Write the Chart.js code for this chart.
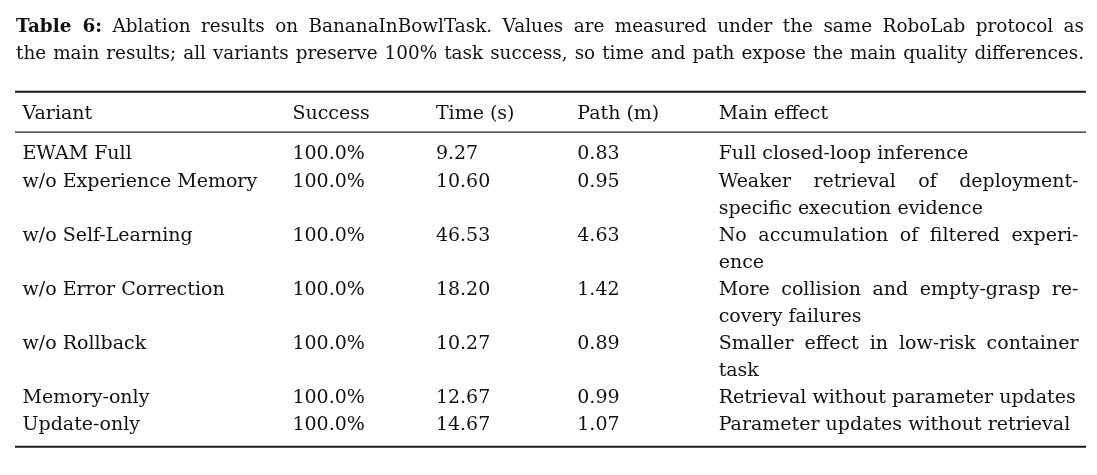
<!DOCTYPE html>
<html>
<head>
<meta charset="utf-8">
<script src="https://cdn.jsdelivr.net/npm/chart.js@4/dist/chart.umd.min.js"></script>
<style>
  html, body { margin: 0; padding: 0; background: #fff; }
  #wrap { position: relative; width: 1097px; height: 475px; }
  #caption {
    position: absolute; left: 16px; top: 13px; width: 1068px;
    font-family: "DejaVu Serif", serif; font-size: 18.4px; line-height: 26.5px; color: #111;
  }
  #caption div { text-align: justify; text-align-last: justify; white-space: nowrap; }
  #caption b { font-weight: bold; }
  #box { position: absolute; left: 0; top: 0; width: 1097px; height: 475px; }
</style>
</head>
<body>
<div id="wrap">
  <div id="box"><canvas id="c"></canvas></div>
  <div id="caption">
    <div><b>Table 6:</b> Ablation results on BananaInBowlTask. Values are measured under the same RoboLab protocol as</div>
    <div>the main results; all variants preserve 100% task success, so time and path expose the main quality differences.</div>
  </div>
</div>
<script>
// table contents
const headers = ['Variant', 'Success', 'Time (s)', 'Path (m)', 'Main effect'];
const variants = ['EWAM Full', 'w/o Experience Memory', 'w/o Self-Learning', 'w/o Error Correction',
                  'w/o Rollback', 'Memory-only', 'Update-only'];
const successPct = [100.0, 100.0, 100.0, 100.0, 100.0, 100.0, 100.0];
const timeS = [9.27, 10.60, 46.53, 18.20, 10.27, 12.67, 14.67];
const pathM = [0.83, 0.95, 4.63, 1.42, 0.89, 0.99, 1.07];
const mainEffect = [
  ['Full closed-loop inference'],
  ['Weaker retrieval of deployment-', 'specific execution evidence'],
  ['No accumulation of filtered experi-', 'ence'],
  ['More collision and empty-grasp re-', 'covery failures'],
  ['Smaller effect in low-risk container', 'task'],
  ['Retrieval without parameter updates'],
  ['Parameter updates without retrieval']
];

// layout: x in percent of table width, y in text lines (header = 0)
const colX = [0.7, 25.9, 39.3, 52.5, 65.7];
const effectRight = 99.3;
const bodyStart = 1.5;
const rules = [{ y: -1, w: 2 }, { y: 0.49, w: 1.2 }, { y: 12.1, w: 2 }];
const FONT = '19px "DejaVu Serif", serif';

// first visual line of each row
const rowLine = [];
let acc = bodyStart;
mainEffect.forEach(function (m) { rowLine.push(acc); acc += m.length; });

function column(ci, texts) {
  return {
    type: 'scatter',
    data: texts.map(function (t, i) { return { x: colX[ci], y: rowLine[i] }; }),
    cellText: texts,
    pointRadius: 0,
    clip: false
  };
}

const datasets = [];
rules.forEach(function (r) {
  datasets.push({
    type: 'line',
    data: [{ x: 0, y: r.y }, { x: 100, y: r.y }],
    borderColor: '#1a1a1a', borderWidth: r.w,
    pointRadius: 0, clip: false
  });
});
datasets.push({
  type: 'scatter',
  data: headers.map(function (h, i) { return { x: colX[i], y: 0 }; }),
  cellText: headers, pointRadius: 0, clip: false
});
datasets.push(column(0, variants));
datasets.push(column(1, successPct.map(function (v) { return v.toFixed(1) + '%'; })));
datasets.push(column(2, timeS.map(function (v) { return v.toFixed(2); })));
datasets.push(column(3, pathM.map(function (v) { return v.toFixed(2); })));

// main effect: one point per printed line
const effData = [], effText = [], effJust = [];
mainEffect.forEach(function (m, i) {
  m.forEach(function (line, k) {
    effData.push({ x: colX[4], y: rowLine[i] + k });
    effText.push(line);
    effJust.push(k < m.length - 1);
  });
});
datasets.push({ type: 'scatter', data: effData, cellText: effText, justify: effJust, pointRadius: 0, clip: false });

function drawJustified(ctx, text, x, y, right) {
  const words = text.split(' ');
  let total = 0;
  words.forEach(function (w) { total += ctx.measureText(w).width; });
  const gap = (right - x - total) / (words.length - 1);
  let cx = x;
  words.forEach(function (w) {
    ctx.fillText(w, cx, y);
    cx += ctx.measureText(w).width + gap;
  });
}

const cellPlugin = {
  id: 'cells',
  afterDatasetsDraw: function (chart) {
    const ctx = chart.ctx;
    const right = chart.scales.x.getPixelForValue(effectRight);
    ctx.save();
    ctx.font = FONT;
    ctx.fillStyle = '#111';
    ctx.textBaseline = 'alphabetic';
    ctx.textAlign = 'left';
    chart.data.datasets.forEach(function (ds, di) {
      if (!ds.cellText) return;
      chart.getDatasetMeta(di).data.forEach(function (el, j) {
        if (ds.justify && ds.justify[j]) drawJustified(ctx, ds.cellText[j], el.x, el.y, right);
        else ctx.fillText(ds.cellText[j], el.x, el.y);
      });
    });
    ctx.restore();
  }
};

new Chart(document.getElementById('c'), {
  data: { datasets: datasets },
  options: {
    responsive: true,
    maintainAspectRatio: false,
    animation: false,
    events: [],
    layout: { padding: { left: 15, right: 11, top: 91.7, bottom: 28.3 } },
    plugins: { legend: { display: false }, tooltip: { enabled: false } },
    scales: {
      x: { type: 'linear', min: 0, max: 100, display: false },
      y: { type: 'linear', min: -1, max: 12.1, reverse: true, display: false }
    }
  },
  plugins: [cellPlugin]
});
</script>
</body>
</html>
